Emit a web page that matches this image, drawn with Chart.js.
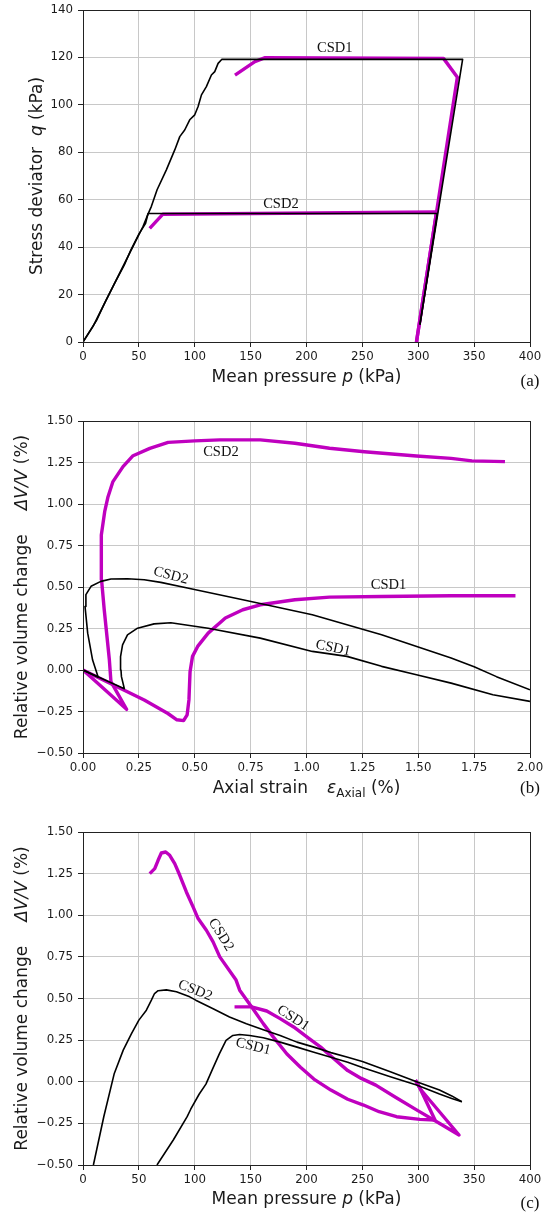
<!DOCTYPE html>
<html>
<head>
<meta charset="utf-8">
<script src="https://cdn.jsdelivr.net/npm/chart.js@4.4.1/dist/chart.umd.min.js"></script>
<style>
  body { margin: 0; background: #fff; }
  #wrap { position: relative; width: 544px; height: 1217px; }
  canvas { position: absolute; left: 0; }
</style>
</head>
<body>
<div id="wrap">
  <canvas id="chartA" width="544" height="400" style="top:0px"></canvas>
  <canvas id="chartB" width="544" height="400" style="top:400px"></canvas>
  <canvas id="chartC" width="544" height="417" style="top:800px"></canvas>
</div>
<script>
// tick values
const pressureTicks = [0, 50, 100, 150, 200, 250, 300, 350, 400];
const qTicks = [0, 20, 40, 60, 80, 100, 120, 140];
const strainTicks = [0, 0.25, 0.5, 0.75, 1, 1.25, 1.5, 1.75, 2];
const volTicks = [-0.5, -0.25, 0, 0.25, 0.5, 0.75, 1, 1.25, 1.5];

// (a) q vs p  [p, q]
const aCsd1Test = [[301.5,7.3],[339.7,119.2],[124.3,119.2],[120.9,117.5],[117.9,114],[114.9,112.6],[110.4,107.7],[106,104.2],[103,99.3],[100,95.8],[95.5,93.7],[91,89.4],[86.6,86.6],[82.1,81],[74.6,72.6],[66.3,64.2],[61.2,57.2],[58.2,53.9],[53.7,48.7],[44.8,40.3],[35.8,31.9],[26.9,23.5],[17.9,15],[9,6.6],[0,0]];
const aCsd2Test = [[301.5,7.3],[317,54.2],[58.2,54.2],[56,50],[50,45.5],[43,39],[37,32.5],[28,24.5],[20,17],[12,9],[0,0]];
const aCsd1Model = [[298.4,0],[335,111.6],[322.6,119.6],[163,119.9],[153.8,118.2],[136,112.5]];
const aCsd2Model = [[298.4,0],[316.4,54.8],[71.5,53.9],[59.7,47.9]];

// (b) volume change vs axial strain  [eps, dV/V]
const bCsd1Test = [[0,0],[0.185,-0.113],[0.172,-0.04],[0.17,0.0],[0.168,0.081],[0.177,0.151],[0.199,0.212],[0.244,0.252],[0.318,0.278],[0.393,0.285],[0.56,0.252],[0.793,0.192],[1.026,0.112],[1.181,0.082],[1.336,0.022],[1.492,-0.029],[1.647,-0.079],[1.834,-0.149],[2.0,-0.189]];
const bCsd2Test = [[0,0],[0.068,-0.044],[0.043,0.06],[0.021,0.222],[0.009,0.383],[0.013,0.454],[0.036,0.504],[0.08,0.534],[0.125,0.548],[0.199,0.55],[0.274,0.544],[0.348,0.528],[0.467,0.494],[0.715,0.423],[1.026,0.333],[1.336,0.212],[1.647,0.072],[1.75,0.02],[1.85,-0.04],[2.0,-0.119]];
const bCsd1Model = [[0,0],[0.274,-0.181],[0.38,-0.262],[0.42,-0.3],[0.45,-0.305],[0.466,-0.27],[0.474,-0.18],[0.479,-0.01],[0.49,0.082],[0.513,0.142],[0.56,0.222],[0.637,0.313],[0.715,0.363],[0.793,0.393],[0.948,0.423],[1.103,0.439],[1.336,0.443],[1.647,0.447],[1.935,0.447]];
const bCsd2Model = [[0,0],[0.195,-0.237],[0.125,-0.07],[0.118,0.06],[0.095,0.363],[0.083,0.544],[0.082,0.633],[0.082,0.813],[0.097,0.954],[0.112,1.044],[0.134,1.135],[0.179,1.225],[0.224,1.291],[0.299,1.335],[0.381,1.371],[0.5,1.38],[0.612,1.386],[0.793,1.386],[0.948,1.366],[1.103,1.336],[1.259,1.315],[1.492,1.289],[1.647,1.275],[1.74,1.26],[1.888,1.255]];

// (c) volume change vs p  [p, dV/V]
const cCsd1Test = [[339,-0.12],[330,-0.1],[319,-0.074],[298.5,-0.02],[275,0.03],[250,0.085],[236.9,0.117],[221.8,0.147],[206.6,0.177],[191.5,0.208],[176.4,0.238],[161.3,0.264],[149.2,0.278],[140.2,0.284],[134.1,0.278],[128,0.248],[122,0.167],[116,0.077],[110,-0.014],[103.9,-0.075],[96.4,-0.165],[93.2,-0.21],[80.8,-0.35],[66.2,-0.5]];
const cCsd2Test = [[9.3,-0.5],[18.6,-0.21],[28,0.05],[36,0.19],[43.5,0.29],[50,0.37],[56.7,0.43],[61.2,0.49],[64,0.53],[67.2,0.547],[74.6,0.552],[83.6,0.54],[95.5,0.51],[100.9,0.49],[116,0.44],[131.1,0.389],[146.2,0.349],[161.3,0.313],[176.4,0.278],[191.5,0.238],[206.6,0.208],[221.8,0.175],[236.9,0.147],[250,0.122],[275,0.06],[298.5,0.0],[319,-0.05],[330,-0.085],[339,-0.12]];
const cCsd1Model = [[297.5,0.01],[302,-0.045],[336.5,-0.32],[320,-0.254],[300,-0.175],[280,-0.095],[262,-0.02],[249,0.02],[236.9,0.067],[224.8,0.137],[212.7,0.208],[200.6,0.268],[188.5,0.329],[176.4,0.379],[164.4,0.425],[150.8,0.45],[135.6,0.45]];
const cCsd2Model = [[297.5,0.01],[302,-0.045],[315,-0.23],[301.5,-0.226],[280.6,-0.21],[265,-0.18],[251,-0.14],[236.9,-0.105],[221.8,-0.05],[206.6,0.016],[194.6,0.087],[182.5,0.167],[170.4,0.268],[161.3,0.349],[150.8,0.45],[140.2,0.55],[136.8,0.613],[122.4,0.75],[116.4,0.84],[110.4,0.91],[103,0.98],[98.5,1.05],[92.5,1.14],[86.6,1.24],[82.1,1.31],[77.6,1.36],[74,1.38],[70.1,1.374],[67.2,1.33],[64.2,1.28],[59.7,1.25]];

const TEST_COLOR = '#000000';
const MODEL_COLOR = '#bf00bf';
const SANS = '17px "DejaVu Sans"';
const ISANS = 'italic 17px "DejaVu Sans"';
const SUB = '12px "DejaVu Sans"';
const NOTE_FONT = '14.5px "Liberation Serif"';
const TEXT_COLOR = '#1a1a1a';

function intFmt(v) { return String(v); }
function dec2Fmt(v) { return v.toFixed(2).replace('-', '\u2212'); }

// draws a title made of several font runs, centred on (cx, baseline)
function drawRich(ctx, parts, cx, base, vertical) {
  ctx.save();
  ctx.translate(cx, base);
  if (vertical) ctx.rotate(-Math.PI / 2);
  let total = 0;
  parts.forEach(p => {
    if (p.gap) { p.w = p.gap; } else { ctx.font = p.f; p.w = ctx.measureText(p.t).width; }
    total += p.w;
  });
  let x = -total / 2;
  ctx.fillStyle = TEXT_COLOR;
  ctx.textBaseline = 'alphabetic';
  ctx.textAlign = 'left';
  parts.forEach(p => {
    if (!p.gap) { ctx.font = p.f; ctx.fillText(p.t, x, p.dy || 0); }
    x += p.w;
  });
  ctx.restore();
}

function decor(spec) {
  return {
    id: 'decor',
    afterDraw(chart) {
      const ctx = chart.ctx, a = chart.chartArea;
      const xs = chart.scales.x, ys = chart.scales.y;
      ctx.save();
      spec.notes.forEach(n => {
        ctx.save();
        ctx.translate(xs.getPixelForValue(n.x), ys.getPixelForValue(n.y));
        ctx.rotate((n.rot || 0) * Math.PI / 180);
        ctx.font = NOTE_FONT;
        ctx.fillStyle = '#111';
        ctx.textAlign = 'center';
        ctx.textBaseline = 'middle';
        ctx.fillText(n.t, 0, 0);
        ctx.restore();
      });
      // full frame (matplotlib spines)
      ctx.strokeStyle = '#222';
      ctx.lineWidth = 1;
      ctx.strokeRect(Math.round(a.left) + 0.5, Math.round(a.top) + 0.5, Math.round(a.right) - Math.round(a.left), Math.round(a.bottom) - Math.round(a.top));
      drawRich(ctx, spec.xTitle, (a.left + a.right) / 2, a.bottom + spec.xTitleDy, false);
      drawRich(ctx, spec.yTitle, spec.yTitleX, (a.top + a.bottom) / 2, true);
      ctx.font = '17px "Liberation Serif"';
      ctx.fillStyle = '#111';
      ctx.textAlign = 'center';
      ctx.textBaseline = 'middle';
      ctx.fillText(spec.letter, a.right, a.bottom + spec.letterDy);
      ctx.restore();
    }
  };
}

function axis(range, ticks, fmt, dir, size) {
  return {
    type: 'linear',
    min: range[0],
    max: range[1],
    afterBuildTicks: s => { s.ticks = ticks.map(v => ({ value: v })); },
    afterFit: s => {
      if (dir === 'x') s.height = size; else s.width = size;
      s.paddingTop = 0; s.paddingBottom = 0; s.paddingLeft = 0; s.paddingRight = 0;
    },
    ticks: {
      callback: v => fmt(v),
      font: { family: 'DejaVu Sans', size: 11.8 },
      color: TEXT_COLOR,
      padding: dir === 'x' ? 3 : 5,
      maxRotation: 0,
      autoSkip: false
    },
    grid: { color: '#c8c8c8', lineWidth: 1, tickColor: '#222', tickLength: 5, drawTicks: true },
    border: { display: true, color: '#222', width: 1 }
  };
}

function buildChart(id, spec) {
  const datasets = spec.series.map(s => ({
    data: s.pts.map(([x, y]) => ({ x, y })),
    showLine: true,
    borderColor: s.color,
    borderWidth: s.w,
    pointRadius: 0,
    fill: false,
    tension: 0,
    borderJoinStyle: 'round'
  }));
  return new Chart(document.getElementById(id), {
    type: 'scatter',
    data: { datasets },
    options: {
      responsive: false,
      animation: false,
      devicePixelRatio: 1,
      events: [],
      layout: { padding: { top: spec.top, right: 14, left: 0, bottom: 0 } },
      plugins: { legend: { display: false }, tooltip: { enabled: false } },
      scales: {
        x: axis(spec.xRange, spec.xTicks, spec.xFmt, 'x', spec.xH),
        y: axis(spec.yRange, spec.yTicks, spec.yFmt, 'y', 83)
      }
    },
    plugins: [decor(spec)]
  });
}

const volTitle = [{ t: 'Relative volume change', f: SANS }, { gap: 24 }, { t: '\u0394V/V', f: ISANS }, { t: ' (%)', f: SANS }];
const pTitle = [{ t: 'Mean pressure ', f: SANS }, { t: 'p', f: ISANS }, { t: ' (kPa)', f: SANS }];

// black (test) first so it sits on top of the magenta lines
buildChart('chartA', {
  top: 10, xH: 58,
  xRange: [0, 400], yRange: [0, 140], xTicks: pressureTicks, yTicks: qTicks, xFmt: intFmt, yFmt: intFmt,
  series: [
    { pts: aCsd1Test, color: TEST_COLOR, w: 1.6 },
    { pts: aCsd2Test, color: TEST_COLOR, w: 1.6 },
    { pts: aCsd1Model, color: MODEL_COLOR, w: 3.4 },
    { pts: aCsd2Model, color: MODEL_COLOR, w: 3.4 }
  ],
  notes: [
    { t: 'CSD1', x: 225.3, y: 123.9 },
    { t: 'CSD2', x: 177.1, y: 58.3 }
  ],
  xTitle: pTitle, xTitleDy: 40,
  yTitle: [{ t: 'Stress deviator  ', f: SANS }, { t: 'q', f: ISANS }, { t: ' (kPa)', f: SANS }], yTitleX: 41.7,
  letter: '(a)', letterDy: 39.7
});

buildChart('chartB', {
  top: 21, xH: 47,
  xRange: [0, 2], yRange: [-0.5, 1.5], xTicks: strainTicks, yTicks: volTicks, xFmt: dec2Fmt, yFmt: dec2Fmt,
  series: [
    { pts: bCsd1Test, color: TEST_COLOR, w: 1.6 },
    { pts: bCsd2Test, color: TEST_COLOR, w: 1.6 },
    { pts: bCsd1Model, color: MODEL_COLOR, w: 3.4 },
    { pts: bCsd2Model, color: MODEL_COLOR, w: 3.4 }
  ],
  notes: [
    { t: 'CSD2', x: 0.617, y: 1.312 },
    { t: 'CSD2', x: 0.393, y: 0.569, rot: 15 },
    { t: 'CSD1', x: 1.367, y: 0.509 },
    { t: 'CSD1', x: 1.119, y: 0.132, rot: 12 }
  ],
  xTitle: [{ t: 'Axial strain', f: SANS }, { gap: 19 }, { t: '\u03b5', f: ISANS }, { t: 'Axial', f: SUB, dy: 3.5 }, { t: ' (%)', f: SANS }], xTitleDy: 40.3,
  yTitle: volTitle, yTitleX: 27,
  letter: '(b)', letterDy: 35.3
});

buildChart('chartC', {
  top: 32, xH: 52,
  xRange: [0, 400], yRange: [-0.5, 1.5], xTicks: pressureTicks, yTicks: volTicks, xFmt: intFmt, yFmt: dec2Fmt,
  series: [
    { pts: cCsd1Test, color: TEST_COLOR, w: 1.6 },
    { pts: cCsd2Test, color: TEST_COLOR, w: 1.6 },
    { pts: cCsd1Model, color: MODEL_COLOR, w: 3.4 },
    { pts: cCsd2Model, color: MODEL_COLOR, w: 3.4 }
  ],
  notes: [
    { t: 'CSD2', x: 123.4, y: 0.883, rot: 58 },
    { t: 'CSD2', x: 100.4, y: 0.548, rot: 22 },
    { t: 'CSD1', x: 188, y: 0.382, rot: 33 },
    { t: 'CSD1', x: 152.3, y: 0.211, rot: 14 }
  ],
  xTitle: pTitle, xTitleDy: 39,
  yTitle: volTitle, yTitleX: 27,
  letter: '(c)', letterDy: 38.3
});
</script>
</body>
</html>
